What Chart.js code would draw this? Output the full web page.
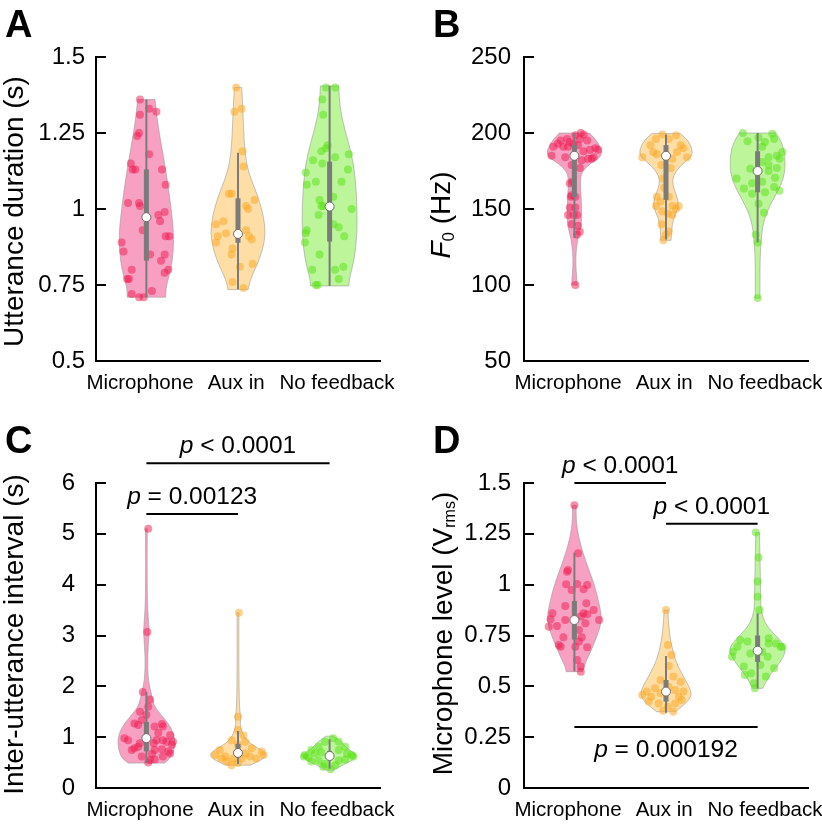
<!DOCTYPE html>
<html>
<head>
<meta charset="utf-8">
<script src="https://cdn.jsdelivr.net/npm/chart.js@4.4.1/dist/chart.umd.min.js"></script>
<style>
  body { margin: 0; background: #fff; }
  #fig { position: relative; width: 822px; height: 827px; }
  canvas { position: absolute; }
</style>
</head>
<body>
<div id="fig">
  <canvas id="chartA" width="411" height="400" style="left:0;top:0"></canvas>
  <canvas id="chartB" width="411" height="400" style="left:411px;top:0"></canvas>
  <canvas id="chartC" width="411" height="427" style="left:0;top:400px"></canvas>
  <canvas id="chartD" width="411" height="427" style="left:411px;top:400px"></canvas>
</div>
<script>
const FONT = "'Liberation Sans', Arial, Helvetica, sans-serif";
const groups = ['Microphone', 'Aux in', 'No feedback'];
// where the three group names sit along the x axis
const groupLabelPos = [0.93, 1.98, 3.08];

// points are [value, x jitter]
// A - utterance duration (s)
const durMic = [[1.36,-0.07],[1.33,0.03],[1.32,0.11],[1.31,-0.07],[1.25,-0.08],[1.24,-0.10],[1.18,0.03],[1.15,-0.17],[1.13,-0.15],[1.13,-0.12],[1.13,0.17],[1.08,0.21],[1.02,-0.20],[1.02,-0.08],[1.01,-0.07],[0.99,0.20],[0.98,0.13],[0.96,0.15],[0.93,-0.04],[0.91,0.25],[0.91,0.21],[0.89,-0.27],[0.86,-0.25],[0.85,0.20],[0.85,0.04],[0.83,0.16],[0.80,-0.16],[0.80,0.24],[0.79,0.20],[0.77,-0.21],[0.77,-0.19],[0.73,0.06],[0.72,-0.16],[0.71,-0.08],[0.71,-0.03]];
const durAux = [[1.40,-0.02],[1.32,-0.04],[1.33,0.04],[1.19,0.05],[1.14,0.06],[1.05,-0.07],[1.05,-0.10],[1.03,0.18],[1.01,0.09],[1.00,0.11],[0.95,-0.24],[0.96,-0.16],[0.91,-0.22],[0.89,-0.24],[0.92,-0.13],[0.93,0.09],[0.91,0.12],[0.90,0.15],[0.87,-0.06],[0.85,-0.07],[0.82,0.16],[0.81,0.02],[0.76,-0.06],[0.74,0.06]];
const durNoFb = [[1.40,-0.04],[1.40,0.06],[1.36,-0.08],[1.31,-0.07],[1.21,-0.02],[1.19,-0.09],[1.20,-0.04],[1.17,0.06],[1.18,0.21],[1.16,-0.18],[1.15,-0.08],[1.13,0.20],[1.12,-0.26],[1.09,-0.15],[1.09,0.13],[1.08,-0.25],[1.03,-0.11],[1.01,-0.07],[1.01,-0.09],[1.04,0.04],[1.00,0.24],[0.98,-0.12],[0.95,0.04],[0.94,0.10],[0.93,-0.25],[0.92,-0.26],[0.89,-0.27],[0.91,0.16],[0.85,-0.11],[0.81,0.15],[0.80,-0.19],[0.80,0.06],[0.75,-0.15],[0.75,-0.13],[0.77,0.10]];
// violin outlines are [value, half width]
const durMicShape = [[0.71,0.21],[0.74,0.21],[0.78,0.25],[0.83,0.285],[0.90,0.30],[0.965,0.285],[1.06,0.245],[1.15,0.20],[1.25,0.14],[1.315,0.11],[1.36,0.095]];
const durAuxShape = [[0.735,0.11],[0.766,0.13],[0.81,0.20],[0.865,0.27],[0.92,0.30],[0.975,0.28],[1.04,0.22],[1.095,0.145],[1.15,0.09],[1.227,0.065],[1.315,0.055],[1.40,0.04]];
const durNoFbShape = [[0.747,0.21],[0.766,0.21],[0.832,0.27],[0.92,0.30],[1.008,0.30],[1.106,0.28],[1.183,0.24],[1.26,0.165],[1.337,0.11],[1.405,0.10]];
// [whisker low, q1, median, q3, whisker high]
const durStats = [[0.71,0.83,0.973,1.13,1.36],[0.736,0.889,0.918,1.035,1.185],[0.747,0.893,1.008,1.156,1.405]];
const durTicks = [0.5, 0.75, 1, 1.25, 1.5];

// B - F0 (Hz)
const f0Mic = [[200,0.07],[199,0.10],[198.5,0.01],[196,-0.08],[195,-0.15],[196,0.06],[195,0.14],[194,-0.05],[193,-0.18],[191,-0.12],[191,-0.07],[192,0.04],[193,-0.01],[191,-0.23],[190,0.23],[189,0.26],[189,0.17],[188,0.10],[185,-0.25],[184,-0.10],[184,0.21],[183,0.19],[183,0.15],[182,0.08],[177,0.06],[179,-0.03],[167,-0.05],[168,-0.02],[159,-0.03],[158,-0.04],[158,0.01],[151,-0.05],[151,0.01],[146,-0.07],[146,-0.01],[146,0.03],[140,-0.03],[139,0.04],[135,0.06],[133,0.03],[100,0.01]];
const f0Aux = [[199,-0.04],[198.5,0.11],[196,-0.11],[196,0.03],[192,-0.17],[192,0.16],[190,0.19],[184,-0.26],[187.5,-0.14],[186,-0.10],[184,0.23],[187.5,0.12],[183,0.07],[179,-0.05],[177,0.05],[170,-0.03],[164,-0.02],[158,-0.10],[158,0.03],[155,-0.06],[152,0.07],[152,0.14],[152,-0.11],[150,0.11],[148.5,-0.04],[147,0.02],[146,0.07],[140,-0.05],[135,0.03],[133,0.00],[129.5,-0.03]];
const f0NoFb = [[200,-0.16],[199.5,0.16],[197,0.01],[196,0.18],[194.5,-0.11],[194,0.08],[191,0.05],[187.5,0.27],[185,0.21],[184,0.12],[183,0.24],[181,0.05],[179,0.12],[177,0.21],[176.5,-0.08],[175,-0.01],[175,0.12],[170,-0.23],[170.5,0.19],[168,0.05],[167,-0.06],[164.5,0.18],[163.5,-0.15],[162,0.24],[161,0.08],[160,-0.06],[153.5,0.01],[147.5,0.07],[133,-0.02],[128,0.00],[91.5,0.00]];
const f0MicShape = [[100,0.03],[104,0.026],[113,0.015],[122,0.018],[130.5,0.036],[139.3,0.077],[148,0.08],[159,0.073],[167.8,0.064],[174.3,0.077],[180,0.175],[184.2,0.29],[188.6,0.30],[195,0.245],[200,0.164]];
const f0AuxShape = [[129.4,0.055],[134.9,0.06],[143.6,0.077],[151.3,0.142],[157.9,0.124],[165.6,0.07],[172.1,0.077],[178.7,0.16],[184.2,0.28],[188.6,0.29],[195,0.245],[199.6,0.155]];
const f0NoFbShape = [[91.4,0.025],[104,0.026],[117,0.026],[130.5,0.04],[139.3,0.057],[148,0.10],[156.8,0.175],[165.6,0.255],[174.3,0.30],[185.3,0.30],[194,0.265],[200,0.20]];
const f0Stats = [[131,158,185,192,200],[130,156,185,192,199],[128,161,175,188,200]];
const f0Ticks = [50, 100, 150, 200, 250];

// C - inter-utterance interval (s)
const iuiMic = [[5.10,0.02],[3.07,0.01],[1.89,-0.04],[1.74,0.04],[1.60,0.02],[1.50,-0.07],[1.44,0.00],[1.34,-0.05],[1.27,-0.13],[1.24,-0.09],[1.21,0.09],[1.26,0.17],[1.21,0.18],[1.08,0.13],[1.04,0.26],[0.98,-0.24],[0.94,-0.20],[0.88,-0.07],[0.81,-0.09],[0.88,0.08],[0.94,0.11],[0.94,0.18],[0.91,0.22],[0.91,0.29],[0.85,0.28],[0.75,-0.16],[0.78,-0.13],[0.75,0.09],[0.76,0.17],[0.72,0.24],[0.68,0.26],[0.67,0.06],[0.62,-0.05],[0.55,0.04],[0.56,0.09],[0.62,0.18],[0.50,0.02]];
const iuiAux = [[3.45,0.01],[1.40,0.00],[1.04,0.06],[1.14,0.00],[0.94,-0.07],[0.91,0.08],[0.85,0.00],[0.75,-0.20],[0.65,-0.25],[0.62,-0.14],[0.78,0.15],[0.72,0.26],[0.65,0.28],[0.68,0.08],[0.52,-0.12],[0.58,-0.05],[0.58,0.04],[0.62,0.13],[0.58,0.20],[0.58,-0.18],[0.45,-0.07],[0.49,0.00]];
const iuiNoFb = [[0.98,0.04],[0.91,0.10],[0.91,-0.05],[0.81,0.17],[0.81,-0.12],[0.75,-0.20],[0.75,0.10],[0.65,-0.27],[0.60,-0.23],[0.68,-0.16],[0.70,-0.09],[0.68,0.19],[0.62,0.26],[0.56,0.17],[0.54,0.10],[0.54,-0.12],[0.52,-0.20],[0.47,-0.05],[0.45,0.06],[0.42,-0.07],[0.37,0.01],[0.65,0.24],[0.62,-0.28]];
const iuiMicShape = [[0.49,0.20],[0.616,0.285],[0.88,0.315],[1.075,0.30],[1.27,0.24],[1.47,0.145],[1.63,0.08],[1.86,0.055],[2.12,0.018],[2.6,0.012],[3.0,0.03],[3.15,0.03],[3.6,0.01],[4.5,0.008],[5.1,0.01]];
const iuiAuxShape = [[0.45,0.135],[0.55,0.255],[0.62,0.30],[0.68,0.30],[0.75,0.255],[0.81,0.19],[0.94,0.09],[1.11,0.04],[1.27,0.022],[1.4,0.033],[1.53,0.015],[2.5,0.008],[3.45,0.01]];
const iuiNoFbShape = [[0.354,0.045],[0.45,0.14],[0.55,0.26],[0.65,0.30],[0.78,0.19],[0.91,0.13],[1.02,0.04]];
const iuiStats = [[0.50,0.72,0.98,1.30,1.89],[0.47,0.60,0.69,0.87,1.12],[0.38,0.56,0.63,0.73,0.96]];
const iuiTicks = [0, 1, 2, 3, 4, 5, 6];
// [from group, to group, height, text, side]
const iuiBrackets = [[1, 3, 6.39, '< 0.0001', 'above'], [1, 2, 5.39, '= 0.00123', 'above']];

// D - microphone level (Vrms)
const micMic = [[1.39,0.00],[1.155,0.04],[1.064,-0.08],[1.072,-0.07],[1.002,-0.09],[1.003,0.03],[0.998,0.14],[0.974,-0.03],[0.977,0.10],[0.908,0.13],[0.895,-0.10],[0.875,0.21],[0.859,-0.24],[0.859,0.10],[0.854,0.14],[0.843,0.07],[0.83,-0.26],[0.826,-0.10],[0.826,0.27],[0.797,-0.19],[0.793,-0.28],[0.81,0.12],[0.777,0.05],[0.741,-0.12],[0.741,0.08],[0.72,0.05],[0.703,-0.17],[0.695,-0.15],[0.692,0.14],[0.695,0.01],[0.63,0.03],[0.597,0.07],[0.572,0.07]];
const micAux = [[0.875,0.00],[0.703,0.02],[0.654,0.06],[0.60,0.03],[0.531,-0.06],[0.548,0.08],[0.523,0.16],[0.49,-0.12],[0.498,0.03],[0.482,0.10],[0.474,-0.21],[0.474,0.19],[0.457,-0.26],[0.449,-0.16],[0.466,-0.06],[0.449,0.14],[0.425,-0.19],[0.416,-0.08],[0.416,0.10],[0.433,0.17],[0.40,0.02],[0.375,0.08],[0.38,-0.03]];
const micNoFb = [[1.256,-0.02],[1.134,0.01],[1.015,0.00],[0.941,0.00],[0.875,0.02],[0.728,-0.19],[0.72,-0.11],[0.736,0.12],[0.711,0.20],[0.695,0.25],[0.695,-0.22],[0.67,-0.27],[0.646,-0.28],[0.662,-0.08],[0.67,0.05],[0.646,0.11],[0.589,0.18],[0.597,-0.15],[0.564,-0.07],[0.605,0.03],[0.548,0.09],[0.556,-0.14],[0.515,-0.04],[0.49,-0.03],[0.711,0.12],[0.695,0.27]];
const micMicShape = [[0.572,0.09],[0.597,0.10],[0.662,0.17],[0.744,0.245],[0.826,0.305],[0.908,0.27],[0.99,0.225],[1.072,0.16],[1.154,0.095],[1.236,0.045],[1.318,0.018],[1.39,0.02]];
const micAuxShape = [[0.375,0.10],[0.416,0.22],[0.457,0.285],[0.498,0.255],[0.564,0.17],[0.63,0.10],[0.711,0.055],[0.793,0.03],[0.875,0.02]];
const micNoFbShape = [[0.49,0.055],[0.548,0.12],[0.597,0.21],[0.646,0.285],[0.687,0.31],[0.72,0.26],[0.769,0.155],[0.81,0.08],[0.875,0.035],[0.925,0.035],[1.089,0.028],[1.256,0.02]];
const micStats = [[0.573,0.73,0.826,0.92,1.157],[0.37,0.425,0.474,0.531,0.649],[0.49,0.62,0.675,0.75,0.859]];
const micTicks = [0, 0.25, 0.5, 0.75, 1, 1.25, 1.5];
const micBrackets = [[1, 2, 1.5, '< 0.0001', 'above'], [2, 3, 1.3, '< 0.0001', 'above'], [1, 3, 0.3, '= 0.000192', 'below']];

const fillColors = ['#f7a0c2', '#fedea5', '#bcf59a'];
const dotColors = ['rgba(240,25,80,0.5)', 'rgba(250,165,30,0.5)', 'rgba(85,225,15,0.5)'];
const GRAY = '#7b7b7b';

// draw a row of text pieces (used for italic p, subscripts)
function drawParts(ctx, parts, x, y, rotate) {
    ctx.save();
    ctx.translate(x, y);
    if (rotate) ctx.rotate(-Math.PI / 2);
    let total = 0;
    parts.forEach(p => { ctx.font = p[1]; total += ctx.measureText(p[0]).width; });
    let cx = -total / 2;
    parts.forEach(p => {
        ctx.font = p[1];
        ctx.fillText(p[0], cx, p[2] || 0);
        cx += ctx.measureText(p[0]).width;
    });
    ctx.restore();
}

function smoothSide(ctx, pts) {
    for (let i = 1; i < pts.length - 1; i++) {
        const mx = (pts[i][0] + pts[i + 1][0]) / 2;
        const my = (pts[i][1] + pts[i + 1][1]) / 2;
        ctx.quadraticCurveTo(pts[i][0], pts[i][1], mx, my);
    }
    const last = pts[pts.length - 1];
    ctx.lineTo(last[0], last[1]);
}

function violinPlugin(shapes) {
    return {
        id: 'violins',
        beforeDatasetsDraw(chart) {
            const {ctx, scales: {x, y}} = chart;
            shapes.forEach((shape, g) => {
                const c = g + 1;
                const right = shape.map(([v, w]) => [x.getPixelForValue(c + w), y.getPixelForValue(v)]);
                const left = shape.slice().reverse().map(([v, w]) => [x.getPixelForValue(c - w), y.getPixelForValue(v)]);
                ctx.save();
                ctx.beginPath();
                ctx.moveTo(right[0][0], right[0][1]);
                smoothSide(ctx, right);
                ctx.lineTo(left[0][0], left[0][1]);
                smoothSide(ctx, left);
                ctx.closePath();
                ctx.fillStyle = fillColors[g];
                ctx.fill();
                ctx.strokeStyle = 'rgba(150,150,150,0.55)';
                ctx.lineWidth = 1;
                ctx.stroke();
                ctx.restore();
            });
        }
    };
}

function textPlugin(c) {
    return {
        id: 'texts',
        afterDraw(chart) {
            const ctx = chart.ctx;
            const x = chart.scales.x;
            const y = chart.scales.y;
            const left = chart.chartArea.left;
            ctx.save();
            ctx.fillStyle = '#000';
            // inward y ticks
            c.yTicks.forEach(v => {
                const py = Math.round(y.getPixelForValue(v));
                ctx.fillRect(left - 1, py - 1, 11, 2);
            });
            // panel letter
            ctx.textBaseline = 'alphabetic';
            ctx.textAlign = 'left';
            ctx.font = 'bold 38px ' + FONT;
            ctx.fillText(c.letter, c.letterX, c.letterY);
            // y axis title
            ctx.textBaseline = 'middle';
            drawParts(ctx, c.title, c.titleX, c.titleY, true);
            // significance brackets
            ctx.textBaseline = 'alphabetic';
            ctx.strokeStyle = '#000';
            ctx.lineWidth = 2;
            (c.brackets || []).forEach(b => {
                const x1 = x.getPixelForValue(b[0]);
                const x2 = x.getPixelForValue(b[1]);
                const ly = y.getPixelForValue(b[2]);
                ctx.beginPath();
                ctx.moveTo(x1, ly);
                ctx.lineTo(x2, ly);
                ctx.stroke();
                const ty = b[4] === 'below' ? ly + 30 : ly - 10;
                drawParts(ctx, [['p', 'italic 24.5px ' + FONT], [' ' + b[3], '24.5px ' + FONT]], (x1 + x2) / 2, ty, false);
            });
            ctx.restore();
        }
    };
}

function makeChart(id, c) {
    const datasets = [];
    c.sets.forEach((pts, g) => {
        const s = c.stats[g];
        const cx = g + 1;
        datasets.push({
            data: pts.map(p => ({x: cx + p[1], y: p[0]})),
            backgroundColor: dotColors[g], borderWidth: 0, pointRadius: 4, order: 3
        });
        datasets.push({
            data: [{x: cx, y: s[0]}, {x: cx, y: s[4]}], showLine: true,
            borderColor: GRAY, borderWidth: 2, pointRadius: 0, order: 2
        });
        datasets.push({
            data: [{x: cx, y: s[1]}, {x: cx, y: s[3]}], showLine: true,
            borderColor: GRAY, borderWidth: 5, pointRadius: 0, order: 1
        });
        datasets.push({
            data: [{x: cx, y: s[2]}],
            backgroundColor: '#fff', borderColor: '#6e6e6e', borderWidth: 1, pointRadius: 4.5, order: 0
        });
    });

    new Chart(document.getElementById(id), {
        type: 'scatter',
        data: {datasets: datasets},
        options: {
            responsive: false,
            animation: false,
            events: [],
            layout: {padding: {left: 0, right: c.padRight, top: c.padTop, bottom: 0}},
            plugins: {legend: {display: false}, tooltip: {enabled: false}},
            scales: {
                x: {
                    type: 'linear', min: 0.45, max: 3.55,
                    afterBuildTicks: s => { s.ticks = groupLabelPos.map(v => ({value: v})); },
                    afterFit: s => { s.height = 39; s.paddingLeft = 0; s.paddingRight = 0; },
                    ticks: {
                        autoSkip: false, maxRotation: 0, padding: 10, color: '#000',
                        font: {family: FONT, size: 20.5},
                        callback: (v, i) => groups[i]
                    },
                    grid: {display: false, drawTicks: false},
                    border: {display: true, color: '#000', width: 2}
                },
                y: {
                    type: 'linear', min: c.yTicks[0], max: c.yTicks[c.yTicks.length - 1],
                    afterBuildTicks: s => { s.ticks = c.yTicks.map(v => ({value: v})); },
                    afterFit: s => { s.width = c.yWidth; s.paddingTop = 0; s.paddingBottom = 0; },
                    ticks: {
                        padding: c.tickPad, color: '#000',
                        font: {family: FONT, size: 24},
                        callback: v => String(v)
                    },
                    grid: {display: false, drawTicks: false},
                    border: {display: true, color: '#000', width: 2}
                }
            }
        },
        plugins: [violinPlugin(c.shapes), textPlugin(c)]
    });
}

makeChart('chartA', {
    letter: 'A', letterX: 5, letterY: 37,
    title: [['Utterance duration (s)', '28px ' + FONT]], titleX: 15, titleY: 211.5,
    yTicks: durTicks, yWidth: 96, tickPad: 11, padTop: 57, padRight: 31,
    sets: [durMic, durAux, durNoFb], shapes: [durMicShape, durAuxShape, durNoFbShape], stats: durStats
});
makeChart('chartB', {
    letter: 'B', letterX: 22, letterY: 37,
    title: [['F', 'italic 28px ' + FONT], ['0', '17px ' + FONT, 7], [' (Hz)', '28px ' + FONT]], titleX: 31, titleY: 215,
    yTicks: f0Ticks, yWidth: 113, tickPad: 13, padTop: 57, padRight: 14,
    sets: [f0Mic, f0Aux, f0NoFb], shapes: [f0MicShape, f0AuxShape, f0NoFbShape], stats: f0Stats
});
makeChart('chartC', {
    letter: 'C', letterX: 5, letterY: 53,
    title: [['Inter-utterance interval (s)', '28px ' + FONT]], titleX: 15, titleY: 234.5,
    yTicks: iuiTicks, yWidth: 96, tickPad: 21, padTop: 83, padRight: 31,
    sets: [iuiMic, iuiAux, iuiNoFb], shapes: [iuiMicShape, iuiAuxShape, iuiNoFbShape], stats: iuiStats,
    brackets: iuiBrackets
});
makeChart('chartD', {
    letter: 'D', letterX: 22, letterY: 53,
    title: [['Microphone level (V', '28px ' + FONT], ['rms', '16px ' + FONT, 7], [')', '28px ' + FONT]], titleX: 33, titleY: 233.5,
    yTicks: micTicks, yWidth: 113, tickPad: 13, padTop: 83, padRight: 14,
    sets: [micMic, micAux, micNoFb], shapes: [micMicShape, micAuxShape, micNoFbShape], stats: micStats,
    brackets: micBrackets
});
</script>
</body>
</html>
